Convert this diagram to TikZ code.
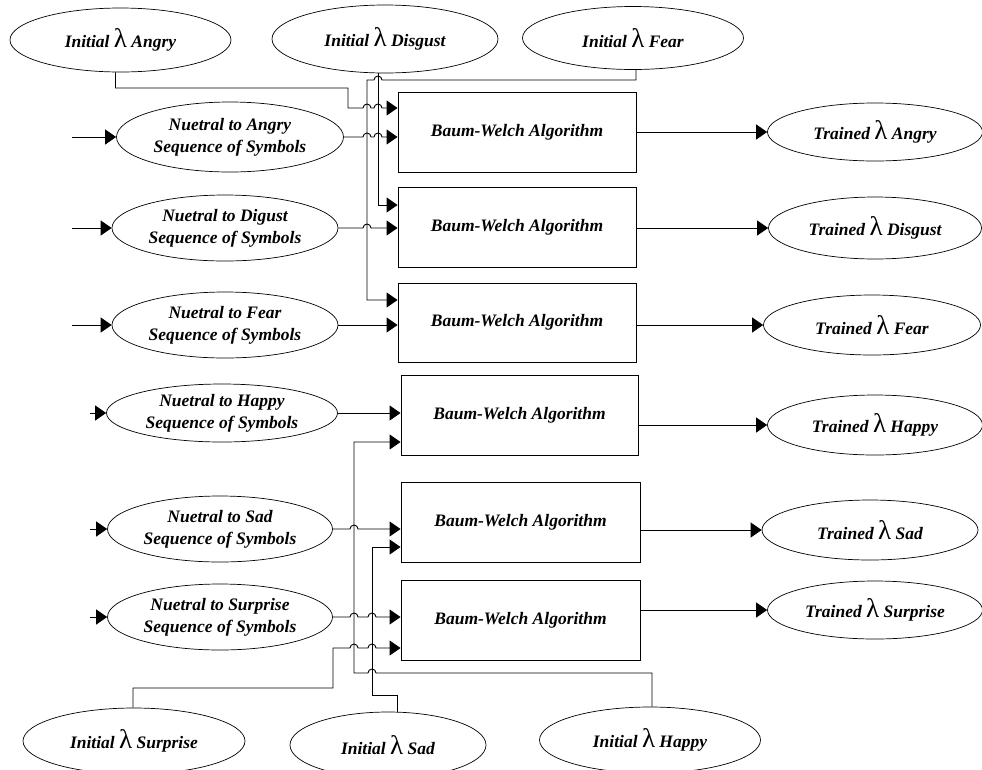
\documentclass[tikz,border=0pt]{standalone}
\usepackage{fontspec}
\setmainfont{Liberation Serif}
\usetikzlibrary{shapes.geometric,arrows.meta}
% large upright lambda used inside the model labels
\newcommand\biglam{{\fontsize{27}{27}\selectfont\mdseries\upshape λ}}

\begin{document}
\begin{tikzpicture}[x=1pt,y=1pt,
  oval/.style={ellipse,draw,line width=0.7pt,inner sep=0pt,align=center,
    font=\bfseries\itshape\fontsize{17.5}{22}\selectfont},
  bwbox/.style={draw,line width=0.9pt,inner sep=0pt,minimum width=238pt,minimum height=80pt,
    font=\bfseries\itshape\fontsize{17.5}{22}\selectfont},
  link/.style={line width=0.9pt},
  arr/.style={link,-{Triangle[length=11pt,width=15pt]}},
]
\useasboundingbox (0,0) rectangle (982,-769);

% initial models (top row)
\node[oval,minimum width=221pt,minimum height=64pt] (iniA) at (120.5,-40) {Initial \biglam{} Angry};
\node[oval,minimum width=226pt,minimum height=68pt] (iniD) at (385,-39) {Initial \biglam{} Disgust};
\node[oval,minimum width=221pt,minimum height=63pt] (iniF) at (633,-38) {Initial \biglam{} Fear};

% initial models (bottom row)
\node[oval,minimum width=222pt,minimum height=66pt] (iniU) at (134,-741) {Initial \biglam{} Surprise};
\node[oval,minimum width=196pt,minimum height=66pt] (iniS) at (388,-745) {Initial \biglam{} Sad};
\node[oval,minimum width=221pt,minimum height=66pt] (iniH) at (650,-740) {Initial \biglam{} Happy};

% observation sequences
\node[oval,minimum width=227pt,minimum height=70pt] (seqA) at (230,-137) {Nuetral to Angry\\Sequence of Symbols};
\node[oval,minimum width=226pt,minimum height=66pt] (seqD) at (225,-228) {Nuetral to Digust\\Sequence of Symbols};
\node[oval,minimum width=226pt,minimum height=66pt] (seqF) at (225,-325) {Nuetral to Fear\\Sequence of Symbols};
\node[oval,minimum width=231pt,minimum height=58pt] (seqH) at (222,-413) {Nuetral to Happy\\Sequence of Symbols};
\node[oval,minimum width=225pt,minimum height=66pt] (seqS) at (220,-529) {Nuetral to Sad\\Sequence of Symbols};
\node[oval,minimum width=225pt,minimum height=66pt] (seqU) at (220,-617) {Nuetral to Surprise\\Sequence of Symbols};

% training blocks
\node[bwbox] (bwA) at (517,-132) {Baum-Welch Algorithm};
\node[bwbox] (bwD) at (517,-227) {Baum-Welch Algorithm};
\node[bwbox,minimum height=79pt] (bwF) at (517,-322.5) {Baum-Welch Algorithm};
\node[bwbox,minimum width=237pt] (bwH) at (519.5,-415) {Baum-Welch Algorithm};
\node[bwbox,minimum width=239pt] (bwS) at (520.5,-522) {Baum-Welch Algorithm};
\node[bwbox,minimum width=239pt] (bwU) at (520.5,-620) {Baum-Welch Algorithm};

% trained models
\node[oval,minimum width=215pt,minimum height=58pt] (trA) at (875,-132) {Trained \biglam{} Angry};
\node[oval,minimum width=213pt,minimum height=62pt] (trD) at (875,-228) {Trained \biglam{} Disgust};
\node[oval,minimum width=217pt,minimum height=60pt] (trF) at (872,-325) {Trained \biglam{} Fear};
\node[oval,minimum width=215pt,minimum height=60pt] (trH) at (875,-425) {Trained \biglam{} Happy};
\node[oval,minimum width=216pt,minimum height=60pt] (trS) at (870,-530) {Trained \biglam{} Sad};
\node[oval,minimum width=215pt,minimum height=58pt] (trU) at (875,-610) {Trained \biglam{} Surprise};

% free ends of the sequence inputs
\coordinate (inA) at (72,-137);
\coordinate (inD) at (72,-228);
\coordinate (inF) at (72,-325);
\coordinate (inH) at (90,-413);
\coordinate (inS) at (90,-529);
\coordinate (inU) at (90,-617);
\foreach \s in {A,D,F,H,S,U} \draw[arr] (in\s) -- (seq\s.west);

% sequences into the training blocks (hops over the model buses)
\draw[arr] (seqA.east) -- (363,-137) arc(180:0:4) -- (374,-137) arc(180:0:4) -- (seqA.east -| bwA.west);
\draw[arr] (seqD.east) -- (363,-228) arc(180:0:4) -- (seqD.east -| bwD.west);
\draw[arr] (seqF.east) -- (seqF.east -| bwF.west);
\draw[arr] (seqH.east) -- (seqH.east -| bwH.west);
\draw[arr] (seqS.east) -- (350,-529) arc(180:0:4) -- (seqS.east -| bwS.west);
\draw[arr] (seqU.east) -- (350,-617) arc(180:0:4) -- (368,-617) arc(180:0:4) -- (seqU.east -| bwU.west);

% initial models into the training blocks
\draw[arr] ([xshift=-5pt]iniA.south) -- (115.5,-88) -- (348,-88) -- (348,-108)
  -- (363,-108) arc(180:0:4) -- (374,-108) arc(180:0:4) -- ([yshift=24pt]bwA.west);
\draw[arr] ([xshift=-7pt]iniD.south) |- ([yshift=22pt]bwD.west);
\draw[arr] ([xshift=3pt]iniF.south) -- (636,-80) -- (382,-80) arc(0:180:4) -- (367,-80)
  |- ([yshift=22.5pt]bwF.west);
\draw[arr] ([xshift=2pt]iniH.north) -- (652,-673) -- (376,-673) arc(0:180:4) -- (354,-673)
  |- ([yshift=-27pt]bwH.west);
\draw[arr] ([xshift=9pt]iniS.north) -- (397,-695) -- (372,-695) |- ([yshift=-25pt]bwS.west);
\draw[arr] ([xshift=-1pt]iniU.north) -- (133,-688) -- (333,-688) -- (333,-648)
  -- (350,-648) arc(180:0:4) -- (368,-648) arc(180:0:4) -- ([yshift=-28pt]bwU.west);

% training blocks into trained models
\foreach \s in {A,D,F,H,S,U} \draw[arr] (bw\s.east |- tr\s.west) -- (tr\s.west);
\end{tikzpicture}
\end{document}
